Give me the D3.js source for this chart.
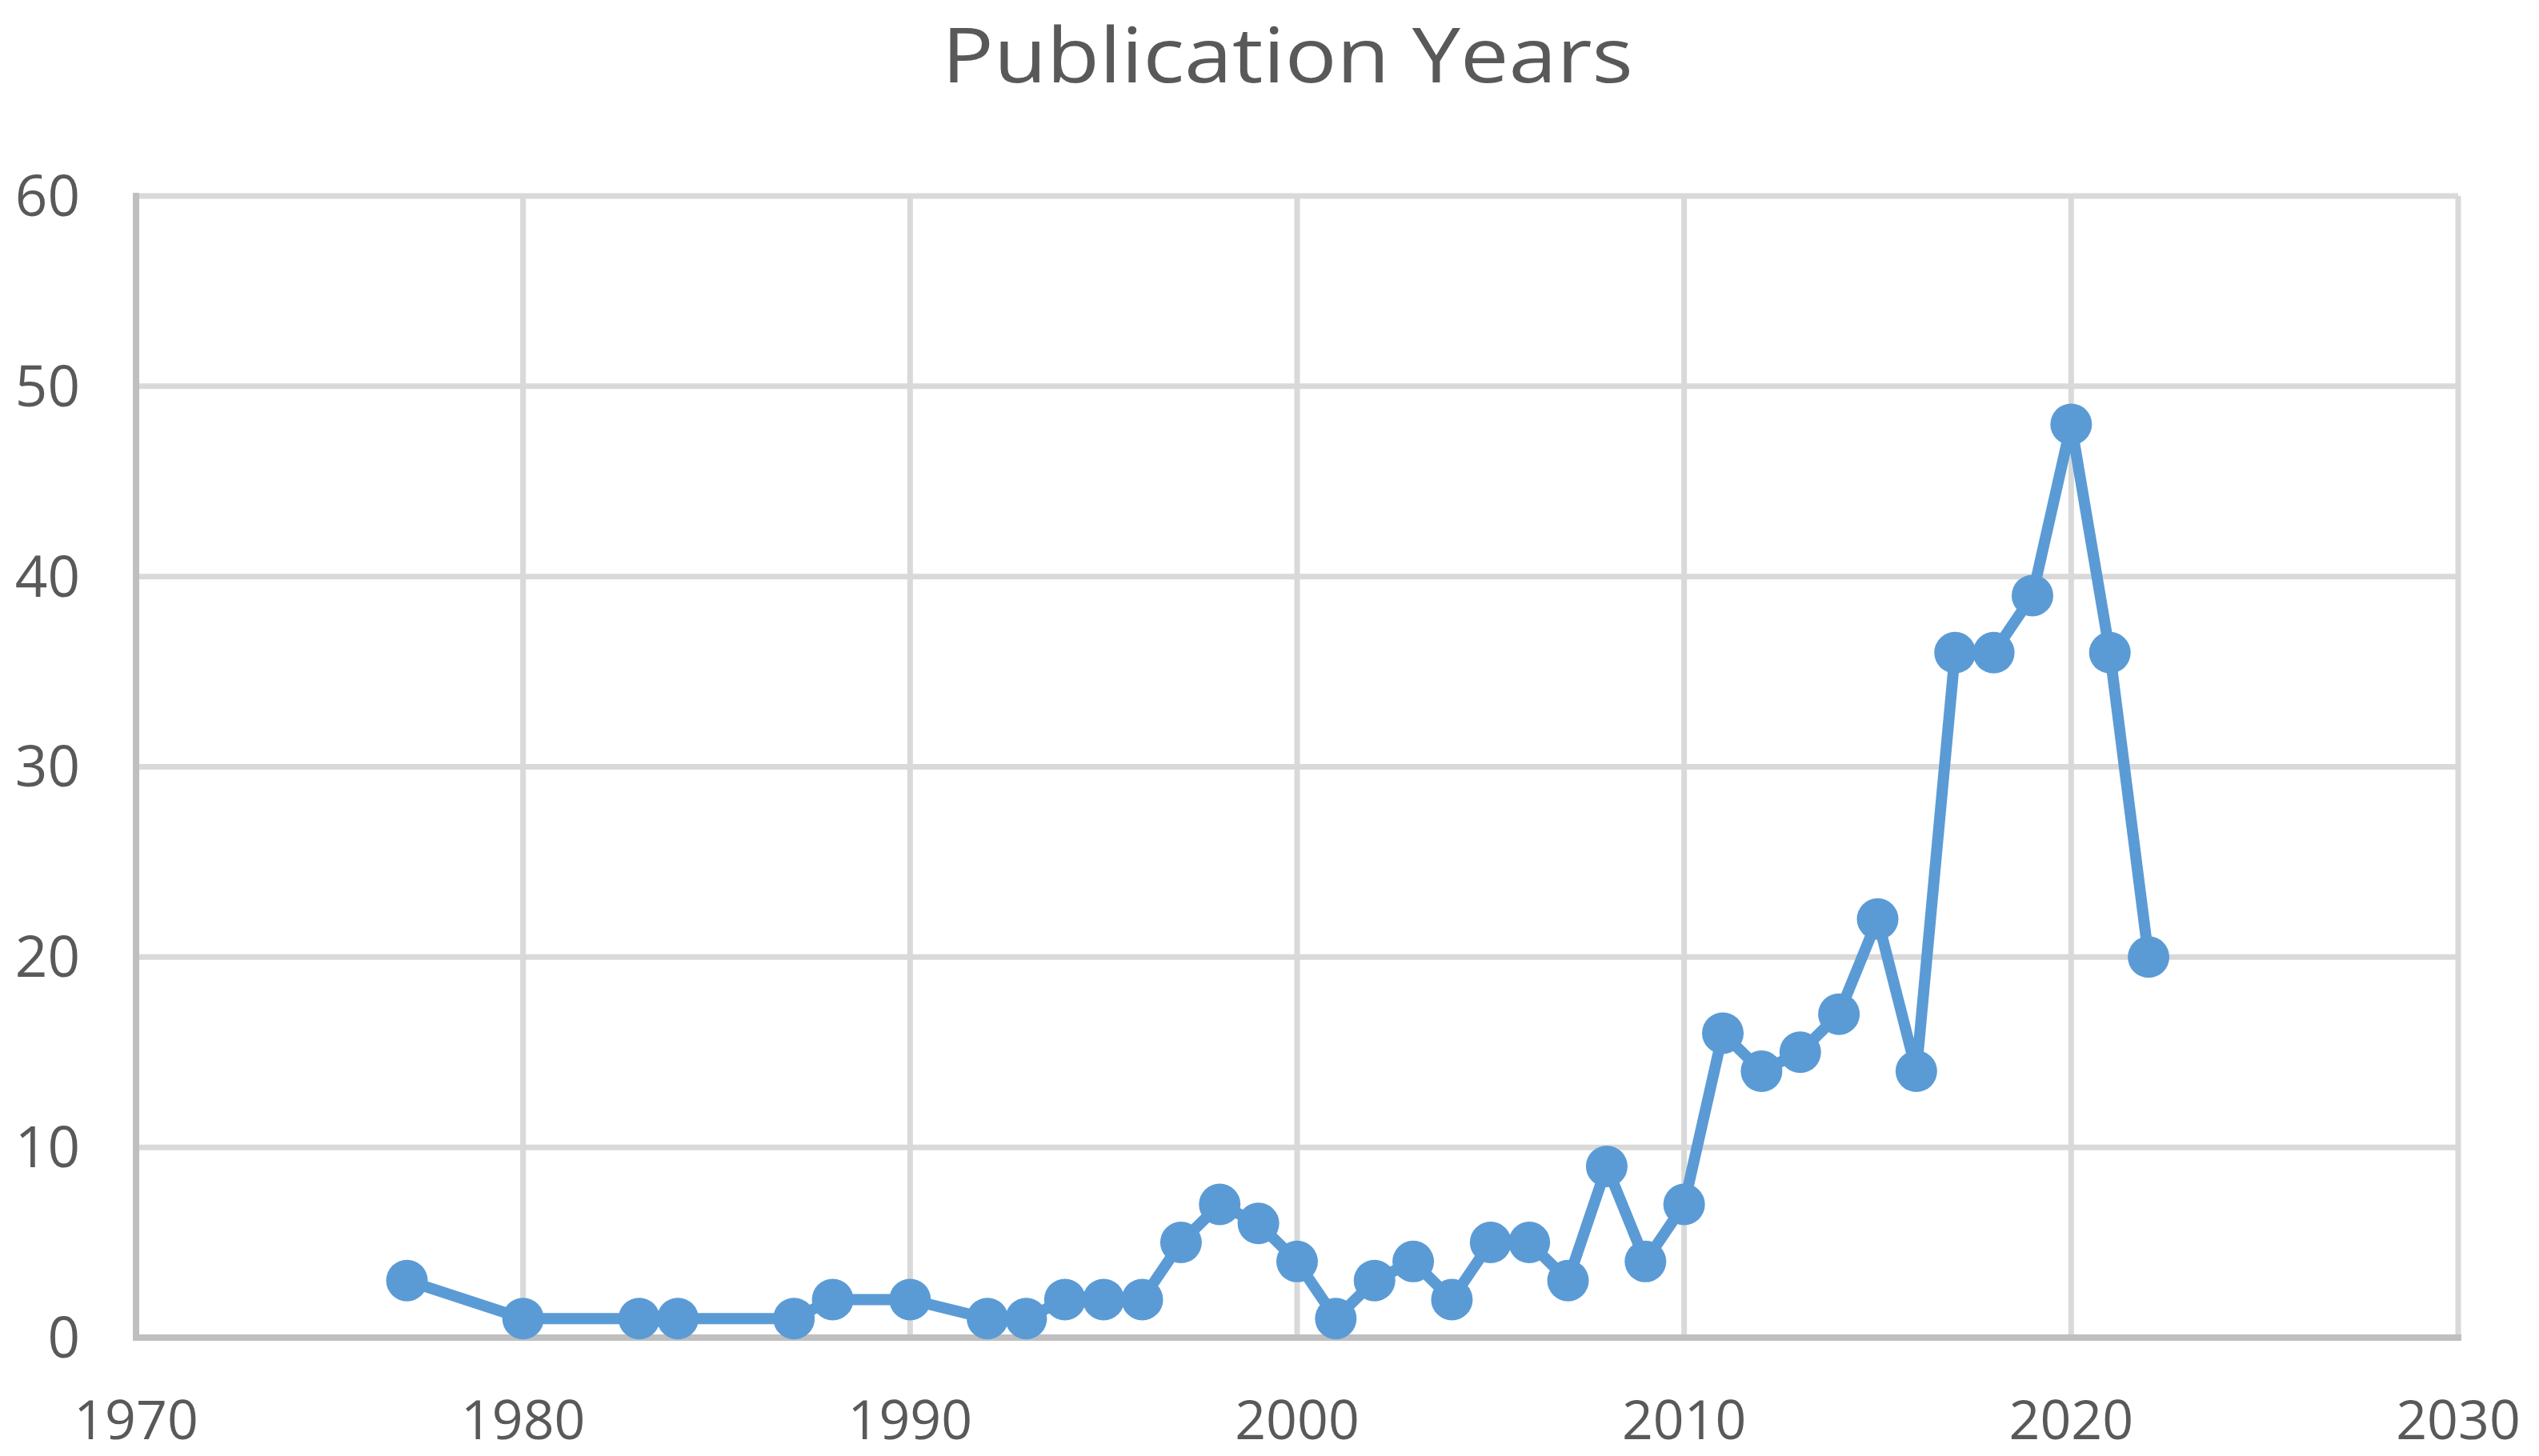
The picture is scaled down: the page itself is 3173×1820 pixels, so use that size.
<!DOCTYPE html>
<html>
<head>
<meta charset="utf-8">
<script src="https://cdn.jsdelivr.net/npm/d3@7"></script>
<style>
  html, body { margin: 0; padding: 0; background: #fff; }
  svg { display: block; }
</style>
</head>
<body>
<svg id="chart" width="3173" height="1820"></svg>
<script>
const title = "Publication Years";
const years = [1977, 1980, 1983, 1984, 1987, 1988, 1990, 1992, 1993, 1994, 1995, 1996, 1997, 1998, 1999, 2000, 2001, 2002, 2003, 2004, 2005, 2006, 2007, 2008, 2009, 2010, 2011, 2012, 2013, 2014, 2015, 2016, 2017, 2018, 2019, 2020, 2021, 2022];
const counts = [3, 1, 1, 1, 1, 2, 2, 1, 1, 2, 2, 2, 5, 7, 6, 4, 1, 3, 4, 2, 5, 5, 3, 9, 4, 7, 16, 14, 15, 17, 22, 14, 36, 36, 39, 48, 36, 20];
const xTicks = [1970, 1980, 1990, 2000, 2010, 2020, 2030];
const yTicks = [0, 10, 20, 30, 40, 50, 60];

(function () {
const data = years.map((yr, i) => ({ year: yr, count: counts[i] }));

const svg = d3.select("#chart");
const pL = 170, pR = 3072, pT = 245, pB = 1672;
const font = "'Open Sans', 'Noto Sans', sans-serif";
const textColor = "#595959";

const x = d3.scaleLinear().domain([1970, 2030]).range([pL, pR]);
const y = d3.scaleLinear().domain([0, 60]).range([pB, pT]);

// gridlines
svg.append("g").selectAll("line").data(yTicks.filter(v => v > 0)).join("line")
  .attr("x1", pL).attr("x2", pR)
  .attr("y1", d => y(d)).attr("y2", d => y(d))
  .attr("stroke", "#d9d9d9").attr("stroke-width", 7);
svg.append("g").selectAll("line").data(xTicks.filter(v => v > 1970)).join("line")
  .attr("x1", d => x(d)).attr("x2", d => x(d))
  .attr("y1", pT).attr("y2", pB)
  .attr("stroke", "#d9d9d9").attr("stroke-width", 7);

// axis lines
svg.append("line").attr("x1", pL).attr("x2", pL).attr("y1", pT - 4).attr("y2", pB + 4)
  .attr("stroke", "#bfbfbf").attr("stroke-width", 8);
svg.append("line").attr("x1", pL - 4).attr("x2", pR + 4).attr("y1", pB).attr("y2", pB)
  .attr("stroke", "#bfbfbf").attr("stroke-width", 8);

// tick labels
svg.append("g").selectAll("text").data(yTicks).join("text")
  .attr("x", 100).attr("y", d => y(d)).attr("dy", "0.35em")
  .attr("text-anchor", "end")
  .attr("font-family", font).attr("font-size", 71).attr("fill", textColor)
  .text(d => d);
svg.append("g").selectAll("text").data(xTicks).join("text")
  .attr("x", d => x(d)).attr("y", 1799)
  .attr("text-anchor", "middle")
  .attr("font-family", font).attr("font-size", 68).attr("fill", textColor)
  .text(d => d);

// title
svg.append("text")
  .attr("x", 1609).attr("y", 103)
  .attr("text-anchor", "middle")
  .attr("font-family", font).attr("font-size", 96).attr("fill", textColor)
  .attr("textLength", 864).attr("lengthAdjust", "spacingAndGlyphs")
  .text(title);

// line
const line = d3.line().x(d => x(d.year)).y(d => y(d.count));
svg.append("path").datum(data)
  .attr("d", line)
  .attr("fill", "none").attr("stroke", "#5b9bd5").attr("stroke-width", 14)
  .attr("stroke-linejoin", "round");

svg.append("g").selectAll("circle").data(data).join("circle")
  .attr("cx", d => x(d.year)).attr("cy", d => y(d.count))
  .attr("r", 26).attr("fill", "#5b9bd5");
})();
</script>
</body>
</html>
